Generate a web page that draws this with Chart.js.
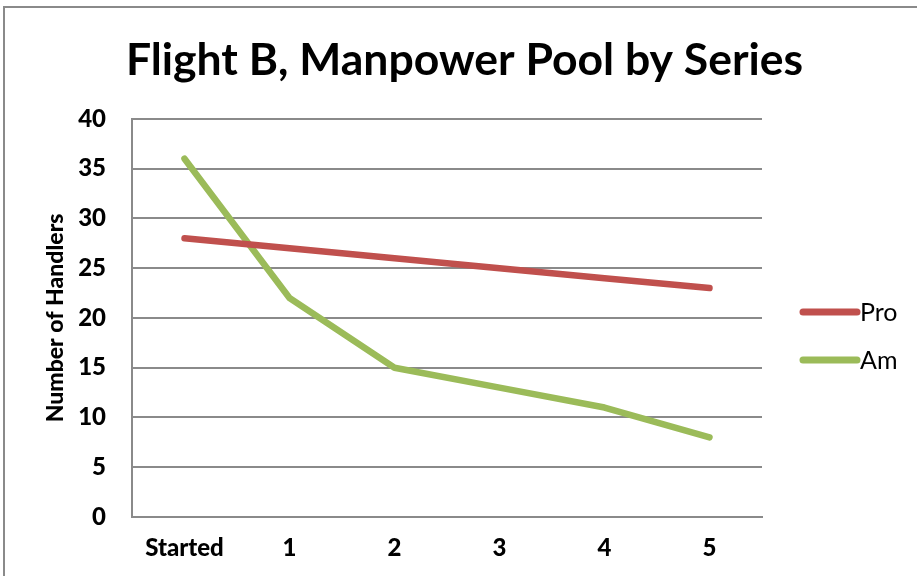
<!DOCTYPE html>
<html lang="en">
<head>
    <meta charset="UTF-8">
    <title>Flight B, Manpower Pool by Series</title>
    <script src="https://cdn.jsdelivr.net/npm/chart.js"></script>
    <style>
        body { margin: 0; background: #fff; }
        #chart-container {
            position: relative;
            width: 917px;
            height: 576px;
        }
        #frame {
            position: absolute;
            left: 3px;
            top: 6px;
            right: -10px;
            bottom: -10px;
            border-top: 2px solid #8a8a8a;
            border-left: 2px solid #8a8a8a;
            pointer-events: none;
        }
    </style>
</head>
<body>
    <div id="chart-container">
        <canvas id="lineChart" width="917" height="576"></canvas>
        <div id="frame"></div>
    </div>
    <script>
        // 資料
        var categories = ['Started', '1', '2', '3', '4', '5'];
        var proValues = [28, 27, 26, 25, 24, 23];
        var amValues = [36, 22, 15, 13, 11, 8];
        var yTicks = [0, 5, 10, 15, 20, 25, 30, 35, 40];

        var FONT = 'Lato, Carlito, "Open Sans", sans-serif';

        // 右側圖例 (Excel 風格)
        var sideLegend = {
            id: 'sideLegend',
            afterDraw: function(chart) {
                var ctx = chart.ctx;
                var area = chart.chartArea;
                var mid = (area.top + area.bottom) / 2;
                var rows = [mid - 6, mid + 42];
                ctx.save();
                chart.data.datasets.forEach(function(ds, i) {
                    var y = rows[i];
                    ctx.strokeStyle = ds.borderColor;
                    ctx.lineWidth = 7;
                    ctx.lineCap = 'round';
                    ctx.beginPath();
                    ctx.moveTo(area.right + 41, y);
                    ctx.lineTo(area.right + 95, y);
                    ctx.stroke();
                    ctx.fillStyle = '#000';
                    ctx.font = '25px ' + FONT;
                    ctx.textBaseline = 'middle';
                    ctx.textAlign = 'left';
                    ctx.fillText(ds.label, area.right + 98, y + 1);
                });
                ctx.restore();
            }
        };

        var ctx = document.getElementById('lineChart').getContext('2d');
        var chart = new Chart(ctx, {
            type: 'line',
            data: {
                labels: categories,
                datasets: [
                    {
                        label: 'Pro',
                        data: proValues,
                        borderColor: '#C0504D',
                        borderWidth: 6.5,
                        borderCapStyle: 'round',
                        borderJoinStyle: 'round',
                        pointRadius: 0,
                        fill: false
                    },
                    {
                        label: 'Am',
                        data: amValues,
                        borderColor: '#9BBB59',
                        borderWidth: 6.5,
                        borderCapStyle: 'round',
                        borderJoinStyle: 'round',
                        pointRadius: 0,
                        fill: false
                    }
                ]
            },
            options: {
                responsive: false,
                animation: false,
                layout: {
                    padding: { top: 0, right: 0, bottom: 0, left: 12 }
                },
                plugins: {
                    legend: { display: false },
                    tooltip: { enabled: false },
                    title: {
                        display: true,
                        text: 'Flight B, Manpower Pool by Series',
                        color: '#000',
                        font: { family: FONT, size: 44.5, weight: 'bold' },
                        padding: { top: 34, bottom: 31.5 }
                    }
                },
                scales: {
                    x: {
                        type: 'category',
                        offset: true,
                        afterFit: function(axis) { axis.height = 59; },
                        grid: { display: false, drawTicks: false },
                        border: { display: true, color: '#8a8a8a', width: 2 },
                        ticks: {
                            color: '#000',
                            padding: 17,
                            font: { family: FONT, size: 24, weight: 900 }
                        }
                    },
                    y: {
                        min: 0,
                        max: 40,
                        afterBuildTicks: function(axis) {
                            axis.ticks = yTicks.map(function(v) { return { value: v }; });
                        },
                        afterFit: function(axis) { axis.width = 120; },
                        grid: { color: '#8a8a8a', lineWidth: 2, drawTicks: false },
                        border: { display: true, color: '#8a8a8a', width: 2 },
                        title: {
                            display: true,
                            text: 'Number of Handlers',
                            color: '#000',
                            font: { family: FONT, size: 23, weight: 900 },
                            padding: { top: 30, bottom: 0 }
                        },
                        ticks: {
                            color: '#000',
                            padding: 26,
                            font: { family: FONT, size: 24, weight: 900 }
                        }
                    },
                    // 右側留白給圖例
                    legendSpace: {
                        position: 'right',
                        min: 0,
                        max: 1,
                        afterFit: function(axis) { axis.width = 155; },
                        grid: { display: false, drawTicks: false },
                        border: { display: false },
                        ticks: { display: false }
                    }
                }
            },
            plugins: [sideLegend]
        });
    </script>
</body>
</html>
